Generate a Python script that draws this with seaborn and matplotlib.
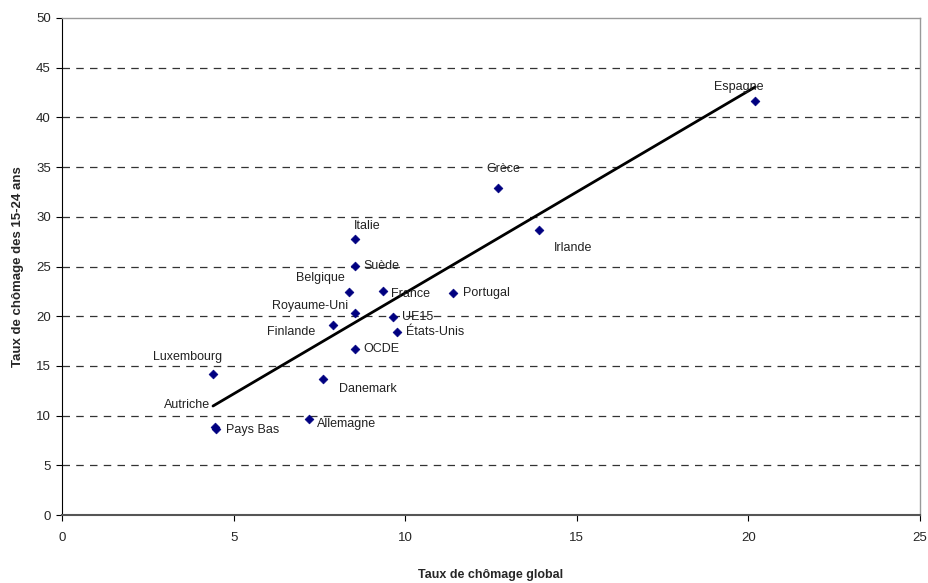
import matplotlib
matplotlib.use("Agg")
import matplotlib.pyplot as plt
import seaborn as sns
import numpy as np
import pandas as pd

countries = ["Espagne", "Grèce", "Irlande", "Italie", "Suède", "Belgique", "France",
             "Portugal", "Royaume-Uni", "UE15", "Finlande", "États-Unis", "OCDE",
             "Luxembourg", "Danemark", "Autriche", "Pays Bas", "Allemagne"]
taux_global = [20.2, 12.7, 13.9, 8.55, 8.55, 8.35, 9.35, 11.4, 8.55, 9.65, 7.9, 9.75,
               8.55, 4.4, 7.6, 4.45, 4.5, 7.2]
taux_jeunes = [41.6, 32.9, 28.7, 27.8, 25.1, 22.4, 22.5, 22.3, 20.3, 19.9, 19.1, 18.4,
               16.7, 14.2, 13.7, 8.85, 8.65, 9.7]
x_ticks = [0, 5, 10, 15, 20, 25]
y_ticks = [0, 5, 10, 15, 20, 25, 30, 35, 40, 45, 50]

# label offsets (points): dx, dy, ha, va
label_style = {
    "Espagne": (-12, 6, "center", "bottom"),
    "Grèce": (-8, 14, "left", "center"),
    "Irlande": (11, -13, "left", "center"),
    "Italie": (-1, 9, "left", "center"),
    "Suède": (6, 0, "left", "center"),
    "Belgique": (-3, 10, "right", "center"),
    "France": (6, -2, "left", "center"),
    "Portugal": (7, 0, "left", "center"),
    "Royaume-Uni": (-5, 5, "right", "center"),
    "UE15": (6, 0, "left", "center"),
    "Finlande": (-13, -5, "right", "center"),
    "États-Unis": (7, 0, "left", "center"),
    "OCDE": (6, 0, "left", "center"),
    "Luxembourg": (-18, 12, "center", "center"),
    "Danemark": (12, -7, "left", "center"),
    "Autriche": (-3, 16, "right", "center"),
    "Pays Bas": (7, -1, "left", "center"),
    "Allemagne": (6, -4, "left", "center"),
}

df = pd.DataFrame({"pays": countries, "global": taux_global, "jeunes": taux_jeunes})

sns.set_style("white")
plt.rcParams["font.family"] = ["Liberation Sans", "DejaVu Sans"]

fig = plt.figure(figsize=(9.29, 5.83), dpi=100)
ax = fig.add_axes([62 / 929, 68 / 583, (920 - 62) / 929, (515 - 18) / 583])

for yv in y_ticks[1:-1]:
    ax.axhline(yv, color="#333333", lw=0.9, ls=(0, (6, 5)), zorder=0)

# trend line (OLS fit on data)
slope, intercept = np.polyfit(df["global"], df["jeunes"], 1)
xs = np.array([df["global"].min(), df["global"].max()])
ax.plot(xs, slope * xs + intercept, color="black", lw=2, zorder=2)

sns.scatterplot(data=df, x="global", y="jeunes", marker="D", s=20, color="#000080",
                edgecolor="#000080", linewidth=0.5, ax=ax, zorder=3)

for _, r in df.iterrows():
    dx, dy, ha, va = label_style[r["pays"]]
    ax.annotate(r["pays"], (r["global"], r["jeunes"]), xytext=(dx, dy),
                textcoords="offset points", ha=ha, va=va, fontsize=9,
                family=["Liberation Sans Narrow", "Liberation Sans", "DejaVu Sans"],
                color="#222222", zorder=4)

ax.set_xlim(0, 25)
ax.set_ylim(0, 50)
ax.set_xticks(x_ticks)
ax.set_yticks(y_ticks)
ax.tick_params(axis="both", labelsize=9.5, length=4, width=0.8, direction="out",
               color="black", pad=8, bottom=True, left=True)
ax.tick_params(axis="y", pad=4)
for side in ["top", "right"]:
    ax.spines[side].set_color("#999999")
    ax.spines[side].set_linewidth(1)
ax.spines["left"].set_color("black")
ax.spines["bottom"].set_color("#555555")
ax.spines["bottom"].set_linewidth(1.5)

ax.set_xlabel("Taux de chômage global", fontsize=9, fontweight="bold", labelpad=18)
ax.set_ylabel("Taux de chômage des 15-24 ans", fontsize=9.5, fontweight="bold", labelpad=9)

fig.savefig("out.png", dpi=100)
